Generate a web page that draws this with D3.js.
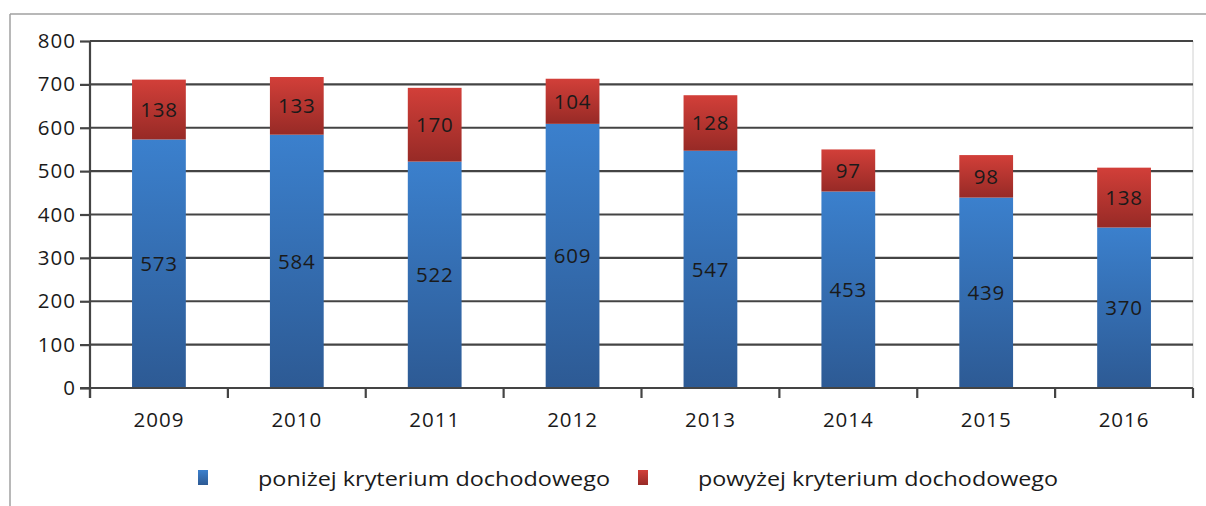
<!DOCTYPE html>
<html>
<head>
<meta charset="utf-8">
<script src="https://cdn.jsdelivr.net/npm/d3@7"></script>
<style>
  body { margin: 0; background: #fff; }
  svg text { font-family: "Open Sans", "DejaVu Sans", sans-serif; fill: #1a1a1a; }
</style>
</head>
<body>
<div id="chart"></div>
<script>
var years = ["2009", "2010", "2011", "2012", "2013", "2014", "2015", "2016"];
var ponizej = [573, 584, 522, 609, 547, 453, 439, 370];
var powyzej = [138, 133, 170, 104, 128, 97, 98, 138];
var seriesNames = ["poniżej kryterium dochodowego", "powyżej kryterium dochodowego"];
var yTicks = [0, 100, 200, 300, 400, 500, 600, 700, 800];

var w = 1206, h = 506;
var plotLeft = 90, plotRight = 1193, plotTop = 41, plotBottom = 388;

var svg = d3.select("#chart").append("svg")
    .attr("width", w)
    .attr("height", h);

var defs = svg.append("defs");
var gBlue = defs.append("linearGradient").attr("id", "gBlue")
    .attr("x1", 0).attr("y1", 0).attr("x2", 0).attr("y2", 1);
gBlue.append("stop").attr("offset", "0%").attr("stop-color", "#3b80cd");
gBlue.append("stop").attr("offset", "100%").attr("stop-color", "#2d5a94");
var gRed = defs.append("linearGradient").attr("id", "gRed")
    .attr("x1", 0).attr("y1", 0).attr("x2", 0).attr("y2", 1);
gRed.append("stop").attr("offset", "0%").attr("stop-color", "#d23f39");
gRed.append("stop").attr("offset", "100%").attr("stop-color", "#972a26");

// outer frame
svg.append("line").attr("x1", 10).attr("y1", 14).attr("x2", w).attr("y2", 14)
    .attr("stroke", "#a0a0a0").attr("stroke-width", 1.5);
svg.append("line").attr("x1", 10).attr("y1", 14).attr("x2", 10).attr("y2", h)
    .attr("stroke", "#a0a0a0").attr("stroke-width", 1.5);

var x = d3.scaleBand()
    .domain(years)
    .range([plotLeft, plotRight])
    .paddingInner(0.61)
    .paddingOuter(0.305);

var y = d3.scaleLinear()
    .domain([0, 800])
    .range([plotBottom, plotTop]);

// right border of plot
svg.append("line").attr("x1", plotRight).attr("x2", plotRight)
    .attr("y1", plotTop).attr("y2", plotBottom)
    .attr("stroke", "#d0d0d0").attr("stroke-width", 1);

// gridlines
svg.append("g").selectAll("line")
    .data(yTicks.slice(1))
    .enter().append("line")
    .attr("x1", plotLeft).attr("x2", plotRight)
    .attr("y1", function(d) { return y(d); })
    .attr("y2", function(d) { return y(d); })
    .attr("stroke", "#444").attr("stroke-width", 2.2);

// y axis
var yAxis = svg.append("g")
    .attr("transform", "translate(" + plotLeft + ",0)")
    .call(d3.axisLeft(y).tickValues(yTicks).tickSize(10).tickPadding(4));
yAxis.selectAll("text").style("font-size", "20.5px").style("letter-spacing", "1px").attr("fill", "#1a1a1a");
yAxis.selectAll("line").attr("stroke", "#444").attr("stroke-width", 2.2);
yAxis.select(".domain").attr("stroke", "#444").attr("stroke-width", 2.2)
    .attr("d", "M0," + plotTop + "V" + (plotBottom + 10));

// bars
var data = years.map(function(d, i) {
    return { year: d, a: ponizej[i], b: powyzej[i] };
});

svg.append("g").selectAll("rect")
    .data(data).enter().append("rect")
    .attr("x", function(d) { return x(d.year); })
    .attr("y", function(d) { return y(d.a); })
    .attr("width", x.bandwidth())
    .attr("height", function(d) { return y(0) - y(d.a); })
    .attr("fill", "url(#gBlue)");

svg.append("g").selectAll("rect")
    .data(data).enter().append("rect")
    .attr("x", function(d) { return x(d.year); })
    .attr("y", function(d) { return y(d.a + d.b); })
    .attr("width", x.bandwidth())
    .attr("height", function(d) { return y(d.a) - y(d.a + d.b); })
    .attr("fill", "url(#gRed)");

// labels
svg.append("g").selectAll("text")
    .data(data).enter().append("text")
    .attr("x", function(d) { return x(d.year) + x.bandwidth() / 2; })
    .attr("y", function(d) { return y(d.a / 2); })
    .attr("dy", "0.36em")
    .attr("text-anchor", "middle")
    .style("font-size", "20.5px")
    .style("letter-spacing", "0.8px")
    .text(function(d) { return d.a; });

svg.append("g").selectAll("text")
    .data(data).enter().append("text")
    .attr("x", function(d) { return x(d.year) + x.bandwidth() / 2; })
    .attr("y", function(d) { return y(d.a + d.b / 2); })
    .attr("dy", "0.36em")
    .attr("text-anchor", "middle")
    .style("font-size", "20.5px")
    .style("letter-spacing", "0.8px")
    .text(function(d) { return d.b; });

// x axis
var xAxis = svg.append("g")
    .attr("transform", "translate(0," + plotBottom + ")")
    .call(d3.axisBottom(x).tickSize(0).tickPadding(24));
xAxis.select(".domain").attr("stroke", "#444").attr("stroke-width", 2.2)
    .attr("d", "M" + (plotLeft - 10) + ",0H" + plotRight);
xAxis.selectAll("text").style("font-size", "20.5px").style("letter-spacing", "1px").attr("fill", "#1a1a1a");

// x ticks between categories
var step = x.step();
var bounds = d3.range(years.length + 1).map(function(i) { return plotLeft + i * step; });
svg.append("g").selectAll("line")
    .data(bounds).enter().append("line")
    .attr("x1", function(d) { return d; }).attr("x2", function(d) { return d; })
    .attr("y1", plotBottom).attr("y2", plotBottom + 10)
    .attr("stroke", "#444").attr("stroke-width", 2.2);

// legend
var legend = svg.append("g");
var legendX = [198, 638];
var legendFill = ["url(#gBlue)", "url(#gRed)"];
seriesNames.forEach(function(name, i) {
    legend.append("rect")
        .attr("x", legendX[i]).attr("y", 470)
        .attr("width", 10).attr("height", 15)
        .attr("fill", legendFill[i]);
    legend.append("text")
        .attr("x", legendX[i] + 60).attr("y", 479)
        .attr("dy", "0.36em")
        .attr("textLength", i === 0 ? 352 : 360)
        .attr("lengthAdjust", "spacingAndGlyphs")
        .style("font-size", "20.5px")
        .text(name);
});
</script>
</body>
</html>
